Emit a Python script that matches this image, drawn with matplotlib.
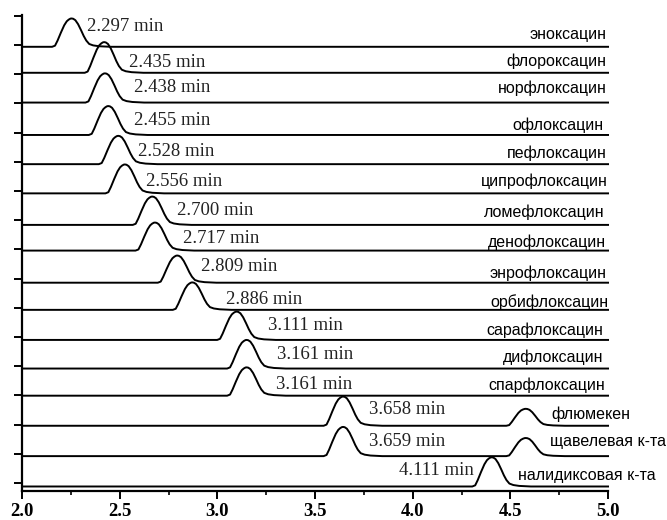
import numpy as np
import matplotlib
matplotlib.use('Agg')
import matplotlib.pyplot as plt
from matplotlib.ticker import MultipleLocator

# compounds, top to bottom
names = ['эноксацин', 'флороксацин', 'норфлоксацин', 'офлоксацин', 'пефлоксацин',
         'ципрофлоксацин', 'ломефлоксацин', 'денофлоксацин', 'энрофлоксацин',
         'орбифлоксацин', 'сарафлоксацин', 'дифлоксацин', 'спарфлоксацин',
         'флюмекен', 'щавелевая к-та', 'налидиксовая к-та']
rt_labels = ['2.297 min', '2.435 min', '2.438 min', '2.455 min', '2.528 min',
             '2.556 min', '2.700 min', '2.717 min', '2.809 min', '2.886 min',
             '3.111 min', '3.161 min', '3.161 min', '3.658 min', '3.659 min',
             '4.111 min']

# baseline offset of each trace (y units = tick spacing)
baselines = [14.94, 14.05, 13.03, 11.92, 10.92, 9.92, 8.84, 7.96, 6.86, 5.93,
             4.90, 3.92, 2.99, 1.96, 0.92, -0.12]
# main peak apex (min) and height
apex_x = [2.254, 2.421, 2.425, 2.442, 2.493, 2.527, 2.667, 2.681, 2.795, 2.872,
          3.099, 3.150, 3.150, 3.644, 3.644, 4.405]
apex_h = [0.97, 1.05, 1.00, 0.99, 0.97, 0.99, 0.97, 0.96, 0.93, 0.94,
          0.97, 0.98, 0.97, 1.00, 1.00, 1.00]
# second peaks (trace index, apex, height)
extra_idx = [13, 14]
extra_x = [4.579, 4.579]
extra_h = [0.58, 0.62]

# peak profile (relative to apex)
prof_dx = [-0.10, -0.085, -0.072, -0.055, -0.038, -0.025, -0.015, -0.006, 0.0,
           0.008, 0.019, 0.033, 0.048, 0.062, 0.075, 0.09, 0.11, 0.14, 0.20]
prof_dy = [0.0, 0.04, 0.22, 0.50, 0.76, 0.90, 0.96, 0.995, 1.0,
           0.99, 0.94, 0.80, 0.59, 0.38, 0.22, 0.10, 0.05, 0.02, 0.0]

# label positions
rt_x = [2.334, 2.549, 2.575, 2.574, 2.595, 2.635, 2.792, 2.826, 2.916, 3.044,
        3.261, 3.307, 3.300, 3.776, 3.776, 3.931]
rt_y = [15.62, 14.39, 13.53, 12.40, 11.34, 10.31, 9.32, 8.36, 7.41, 6.29,
        5.41, 4.39, 3.39, 2.52, 1.41, 0.42]
name_x = [4.992, 4.992, 4.992, 4.978, 4.992, 5.0, 4.984, 4.992, 4.992, 5.0,
          4.973, 4.978, 4.984, 4.711, 4.702, 4.538]
name_y = [15.35, 14.46, 13.52, 12.26, 11.29, 10.32, 9.29, 8.23, 7.18, 6.21,
          5.24, 4.31, 3.36, 2.36, 1.41, 0.24]

fig = plt.figure(figsize=(6.67, 5.2), dpi=100)
ax = fig.add_axes([0.033, 0.0558, 0.8786, 0.9154])

dx = np.array(prof_dx)
dy = np.array(prof_dy)
for i in range(len(names)):
    xs = [np.array([2.0]), apex_x[i] + dx]
    ys = [np.array([0.0]), apex_h[i] * dy]
    for k, j in enumerate(extra_idx):
        if j == i:
            xs.append(extra_x[k] + dx)
            ys.append(extra_h[k] * dy)
    xs.append(np.array([5.0]))
    ys.append(np.array([0.0]))
    ax.plot(np.concatenate(xs), baselines[i] + np.concatenate(ys),
            color='black', lw=1.4, solid_joinstyle='round', clip_on=False)

    ax.text(rt_x[i], rt_y[i], rt_labels[i], ha='left', va='center',
            fontsize=13.5, family='Liberation Serif', color='#222222')
    ha = 'left' if i >= 13 else 'right'
    ax.text(name_x[i], name_y[i], names[i], ha=ha, va='center',
            fontsize=11.5, family='Liberation Sans', color='black')

ax.set_xlim(2.0, 5.0)
ax.set_ylim(-0.274, 16.03)
ax.set_xticks(np.arange(2.0, 5.01, 0.5))
ax.xaxis.set_minor_locator(MultipleLocator(0.25))
ax.set_yticks(np.arange(0, 17, 1))
ax.set_yticklabels([])
for lab in ax.get_xticklabels():
    lab.set_fontfamily('Liberation Serif')
    lab.set_fontweight('bold')
    lab.set_fontsize(13.5)
ax.tick_params(axis='x', which='major', direction='out', length=5.8, width=1.4, pad=3)
ax.tick_params(axis='x', which='minor', direction='out', length=3.0, width=1.2)
ax.tick_params(axis='y', which='major', direction='out', length=5.8, width=1.4)
ax.spines['top'].set_visible(False)
ax.spines['right'].set_visible(False)
ax.spines['left'].set_linewidth(1.6)
ax.spines['bottom'].set_linewidth(1.6)

fig.savefig('out.png', dpi=100)
